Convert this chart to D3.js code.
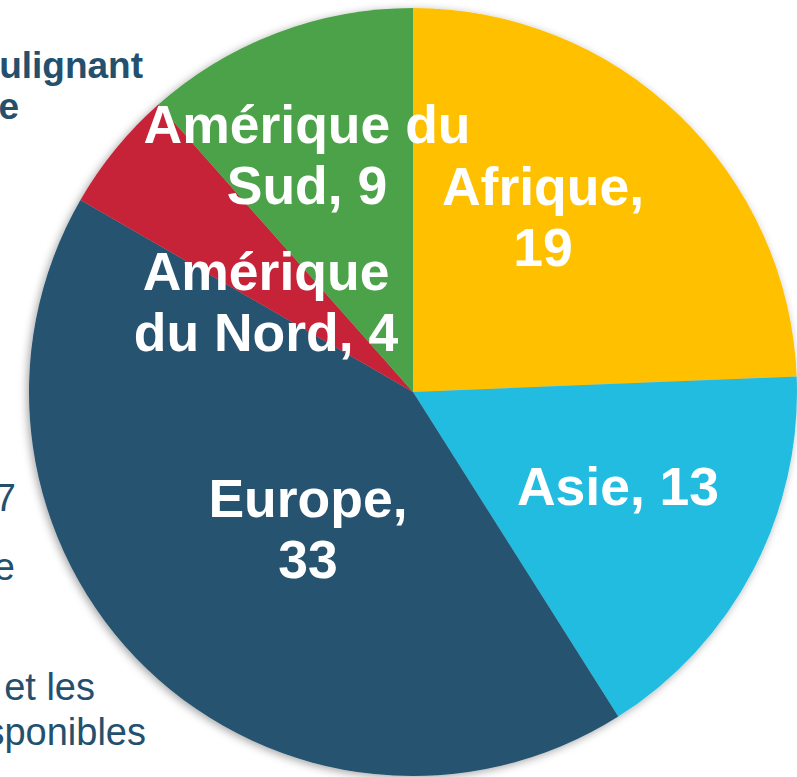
<!DOCTYPE html>
<html>
<head>
<meta charset="utf-8">
<script src="https://cdn.jsdelivr.net/npm/d3@7"></script>
<style>
  html, body { margin: 0; padding: 0; background: #fff; }
  svg { display: block; }
</style>
</head>
<body>
<div id="chart"></div>
<script>
// regions, clockwise from 12 o'clock
const regions = ["Afrique", "Asie", "Europe", "Amérique du Nord", "Amérique du Sud"];
const values = [19, 13, 33, 4, 9];
const colors = ["#FFC000", "#23BCE0", "#26526F", "#C62437", "#4BA24A"];
// label lines per slice
const labelLines = [
  ["Afrique,", "19"],
  ["Asie, 13"],
  ["Europe,", "33"],
  ["Amérique", "du Nord, 4"],
  ["Amérique du", "Sud, 9"],
];
// label centres (relative to pie centre)
const labelPos = [[130, -175], [205, 95], [-105, 137], [-147, -90], [-106, -237]];

// partly hidden slide text behind the pie
const backText = [
  { t: "soulignant", x: 143, y: 78, bold: true },
  { t: "le", x: 19, y: 119, bold: true },
  { t: "2017", x: 16, y: 511, bold: false },
  { t: "de", x: 15, y: 580, bold: false },
  { t: "et les", x: 95, y: 700, bold: false },
  { t: "disponibles", x: 146, y: 745, bold: false },
];

const W = 797, H = 777;
const cx = 413, cy = 392, r = 384;

const svg = d3.select("#chart").append("svg")
  .attr("width", W)
  .attr("height", H);

const defs = svg.append("defs");
const f = defs.append("filter").attr("id", "shadow")
  .attr("x", "-10%").attr("y", "-10%").attr("width", "120%").attr("height", "120%");
f.append("feDropShadow")
  .attr("dx", -2).attr("dy", 2)
  .attr("stdDeviation", 4)
  .attr("flood-color", "#000")
  .attr("flood-opacity", 0.35);

svg.append("g")
  .selectAll("text")
  .data(backText)
  .enter()
  .append("text")
  .text((d) => d.t)
  .attr("x", (d) => d.x)
  .attr("y", (d) => d.y)
  .attr("text-anchor", "end")
  .attr("font-family", "Liberation Sans, Arial, sans-serif")
  .attr("font-size", (d) => d.bold ? 37 : 38)
  .attr("font-weight", (d) => d.bold ? "bold" : "normal")
  .attr("fill", "#24506E");

const pie = d3.pie().sort(null).value((d) => d)(values);
const arc = d3.arc().innerRadius(0).outerRadius(r);

const g = svg.append("g").attr("transform", `translate(${cx},${cy})`);

g.append("g")
  .attr("filter", "url(#shadow)")
  .selectAll("path")
  .data(pie)
  .enter()
  .append("path")
  .attr("d", arc)
  .attr("fill", (d, i) => colors[i]);

const lineH = 61;
const lab = g.append("g")
  .selectAll("text")
  .data(pie)
  .enter()
  .append("text")
  .attr("text-anchor", "middle")
  .attr("font-family", "Liberation Sans, Arial, sans-serif")
  .attr("font-weight", "bold")
  .attr("font-size", 53.5)
  .attr("fill", "#fff")
  .attr("transform", (d, i) => `translate(${labelPos[i][0]},${labelPos[i][1]})`);

lab.each(function (d, i) {
  const lines = labelLines[i];
  const t = d3.select(this);
  lines.forEach((ln, k) => {
    t.append("tspan")
      .attr("x", 0)
      .attr("y", (k - (lines.length - 1) / 2) * lineH + 18)
      .text(ln);
  });
});
</script>
</body>
</html>
